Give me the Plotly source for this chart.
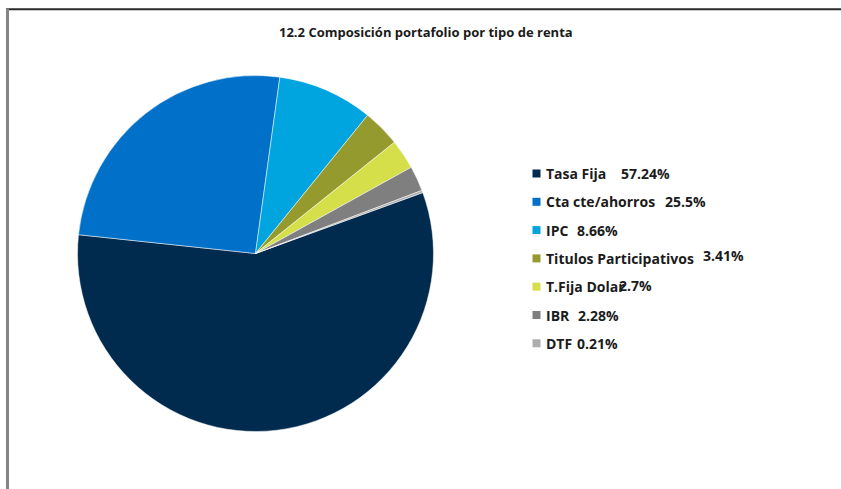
import plotly.graph_objects as go

# ---- data ----
labels = ["Tasa Fija", "Cta cte/ahorros", "IPC", "Titulos Participativos",
          "T.Fija Dolar", "IBR", "DTF"]
values = [57.24, 25.5, 8.66, 3.41, 2.7, 2.28, 0.21]
colors = ["#002A4E", "#0070C9", "#00A4DF", "#949A2E", "#D5DF4A", "#7F7F7F", "#ADADAD"]
title_text = "12.2 Composición portafolio por tipo de renta"

# ---- layout helpers (pixel -> paper) ----
W, H = 841, 489
def px(x):
    return x / W
def py(y):
    return 1 - y / H

FONT = "Open Sans"
TXT = "#1b1b1b"

fig = go.Figure(go.Pie(
    labels=labels,
    values=values,
    marker=dict(colors=colors, line=dict(color="#ffffff", width=0.5)),
    sort=False,
    direction="clockwise",
    rotation=70,
    textinfo="none",
    hoverinfo="label+percent",
    showlegend=False,
    domain=dict(x=[px(77.5), px(433.5)], y=[py(431.5), py(75.5)]),
))

shapes = []
annotations = []

# frame lines
shapes.append(dict(type="line", xref="paper", yref="paper",
                   x0=px(6), x1=1, y0=py(9.2), y1=py(9.2),
                   line=dict(color="#2a2a2a", width=2)))
shapes.append(dict(type="line", xref="paper", yref="paper",
                   x0=px(7.5), x1=px(7.5), y0=0, y1=py(8.5),
                   line=dict(color="#858585", width=3)))

# title
annotations.append(dict(text="<b>" + title_text + "</b>", xref="paper", yref="paper",
                        x=px(426), y=py(32), xanchor="center", yanchor="middle",
                        showarrow=False, font=dict(family=FONT, size=13, color=TXT)))

# manual legend
row_y0, row_dy = 173.5, 28.3
pct_x = [619, 663, 575, 701, 617, 576, 575]
pct_dy = [0, 0, 0, -2.5, -1.7, 0, 0]
for i, (lab, val, col) in enumerate(zip(labels, values, colors)):
    yc = row_y0 + i * row_dy
    shapes.append(dict(type="rect", xref="paper", yref="paper",
                       x0=px(532.5), x1=px(540.5), y0=py(yc + 4), y1=py(yc - 4),
                       fillcolor=col, line=dict(width=0)))
    annotations.append(dict(text="<b>" + lab + "</b>", xref="paper", yref="paper",
                            x=px(543.5), y=py(yc), xanchor="left", yanchor="middle",
                            showarrow=False, font=dict(family=FONT, size=14, color=TXT)))
    annotations.append(dict(text="<b>" + f"{val:g}%" + "</b>", xref="paper", yref="paper",
                            x=px(pct_x[i]), y=py(yc + pct_dy[i]), xanchor="left", yanchor="middle",
                            showarrow=False, font=dict(family=FONT, size=14, color=TXT)))

fig.update_layout(
    width=W, height=H,
    margin=dict(l=0, r=0, t=0, b=0),
    paper_bgcolor="#ffffff",
    plot_bgcolor="#ffffff",
    shapes=shapes,
    annotations=annotations,
    showlegend=False,
)

fig.write_html("out.html")
